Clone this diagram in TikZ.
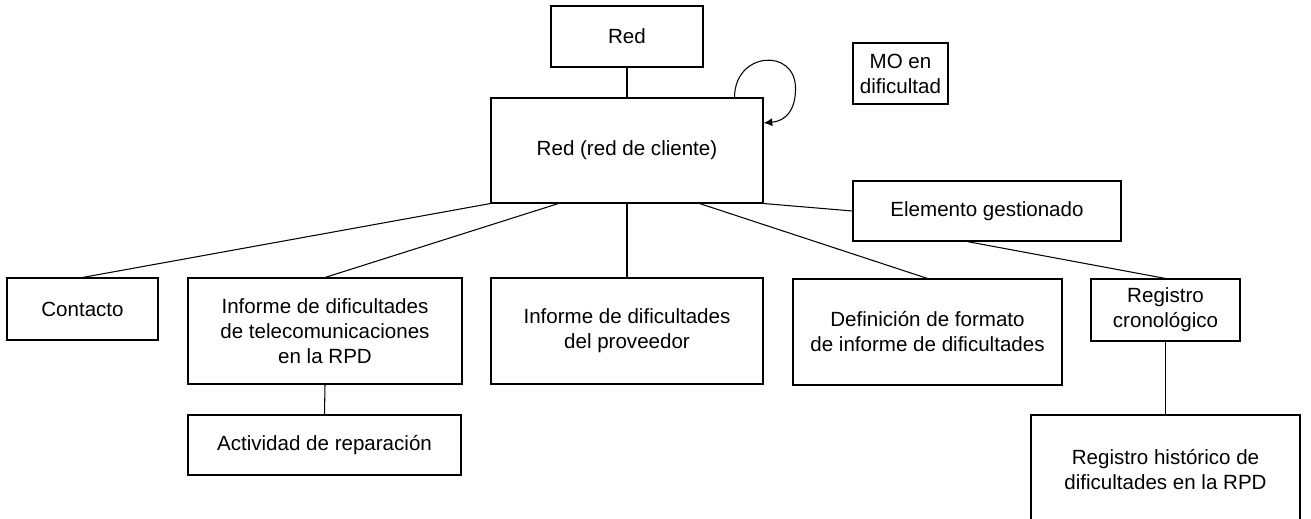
\documentclass[tikz,border=0pt]{standalone}
\usepackage{fontspec}
\setmainfont{Liberation Sans}
\usetikzlibrary{arrows.meta,calc}
\tikzset{box/.style={draw, line width=0.6pt, align=center, inner sep=0pt,
   font=\fontsize{11.7pt}{14.2pt}\selectfont},
 link/.style={draw, line width=0.6pt},
 }

\begin{document}
\begin{tikzpicture}[x=0.02cm, y=-0.02cm]
        \useasboundingbox (0,0) rectangle (1311,519);
        \clip (0,0) rectangle (1311,519);
        % boxes: name/x/y/width/height/text
        \foreach \n/\x/\y/\w/\h/\t in {
            red/627/36.5/152/61/{Red},
            cliente/627/150.5/272/105/{Red (red de cliente)},
            mo/900.5/73.5/95/61/{MO en\\dificultad},
            elem/987/211/268/60/{Elemento gestionado},
            contacto/82.5/309/151/62/{Contacto},
            tele/325/331/274/106/{Informe de dificultades\\de telecomunicaciones\\en la RPD},
            prov/627/331/272/106/{Informe de dificultades\\del proveedor},
            defn/927.5/332/269/106/{Definici\'on de formato\\de informe de dificultades},
            crono/1165.5/310/149/62/{Registro\\cronol\'ogico},
            activ/324.5/445/273/60/{Actividad de reparaci\'on},
            hist/1165.5/470/269/110/{Registro hist\'orico de\\dificultades en la RPD}} {
            \node[box, minimum width=\w*0.02cm, minimum height=\h*0.02cm] (\n) at (\x,\y) {\t};
        }
        \draw[link] (red.south) -- (cliente.north);
        \draw[link] (cliente.south) -- (prov.north);
        \draw[link] (contacto.north) -- (cliente.south west);
        \draw[link] (tele.north) -- ($(cliente.south west)+(68,0)$);
        \draw[link] (defn.north) -- ($(cliente.south east)+(-64,0)$);
        \draw[link] (elem.west) -- (cliente.south east);
        \draw[link] ($(elem.south)+(-20,0)$) -- (crono.north);
        \draw[link] (crono.south) -- (hist.north);
        \draw[link] (tele.south) -- (activ.north);
        % self loop
        \coordinate (loopa) at ($(cliente.north east)+(-29,0)$);
        \coordinate (loopb) at ($(cliente.east)+(0,-27.5)$);
        \draw[link, -{Latex[length=5pt,width=4.5pt]}] (loopa)
            .. controls ($(loopa)+(0,-46)$) and ($(loopa)+(61,-50)$) .. ($(loopa)+(61,-9)$)
            .. controls ($(loopa)+(61,13)$) and ($(loopb)+(22,-2)$) .. (loopb);
    \end{tikzpicture}
\end{document}
